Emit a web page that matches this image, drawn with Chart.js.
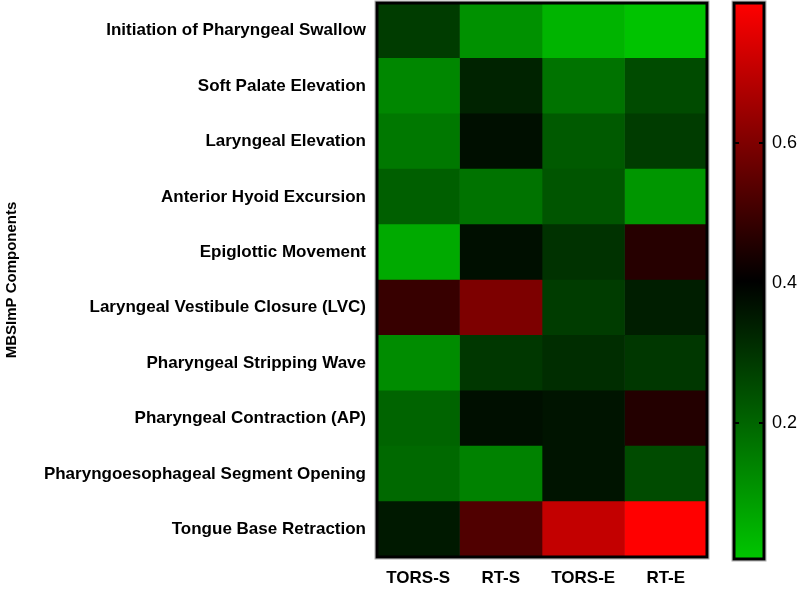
<!DOCTYPE html>
<html>
<head>
<meta charset="utf-8">
<script src="https://cdn.jsdelivr.net/npm/chart.js@4/dist/chart.umd.min.js"></script>
<style>
  body { margin: 0; background: #fff; }
  #wrap { position: relative; width: 801px; height: 590px; }
  #heat { position: absolute; left: 0; top: 0; }
  #bar { position: absolute; left: 720px; top: 0; }
</style>
</head>
<body>
<div id="wrap">
  <canvas id="heat" width="720" height="590"></canvas>
  <canvas id="bar" width="81" height="590"></canvas>
</div>
<script>
const columns = ['TORS-S', 'RT-S', 'TORS-E', 'RT-E'];
const components = [
  'Initiation of Pharyngeal Swallow',
  'Soft Palate Elevation',
  'Laryngeal Elevation',
  'Anterior Hyoid Excursion',
  'Epiglottic Movement',
  'Laryngeal Vestibule Closure (LVC)',
  'Pharyngeal Stripping Wave',
  'Pharyngeal Contraction (AP)',
  'Pharyngoesophageal Segment Opening',
  'Tongue Base Retraction'
];
// one array per group, rows in the order of components
const torsS = [0.28, 0.13, 0.16, 0.21, 0.06, 0.486, 0.12, 0.20, 0.19, 0.35];
const rtS   = [0.11, 0.33, 0.37, 0.17, 0.37, 0.596, 0.29, 0.37, 0.14, 0.525];
const torsE = [0.04, 0.17, 0.22, 0.23, 0.30, 0.28, 0.31, 0.36, 0.36, 0.706];
const rtE   = [0.01, 0.25, 0.28, 0.10, 0.46, 0.34, 0.29, 0.455, 0.25, 0.80];
const colorTicks = [0.2, 0.4, 0.6];
const scaleMin = 0.005, scaleMid = 0.4, scaleMax = 0.8;

const FONT = "'Liberation Sans', Arial, sans-serif";

// green -> black -> red
function cellColor(v) {
  if (v <= scaleMid) {
    const t = Math.max(0, (scaleMid - v) / (scaleMid - 0));
    return 'rgb(0,' + Math.round(200 * t) + ',0)';
  }
  const t = Math.min(1, (v - scaleMid) / (scaleMax - scaleMid));
  return 'rgb(' + Math.round(255 * t) + ',0,0)';
}

const groups = [torsS, rtS, torsE, rtE];

const frame = {
  id: 'frame',
  afterDatasetsDraw(chart) {
    const a = chart.chartArea, ctx = chart.ctx;
    ctx.save();
    ctx.strokeStyle = '#b0b0b0';
    ctx.lineWidth = 1;
    ctx.strokeRect(a.left - 2, a.top - 2, a.right - a.left + 4, a.bottom - a.top + 4);
    ctx.strokeStyle = '#000';
    ctx.lineWidth = 3;
    ctx.strokeRect(a.left, a.top, a.right - a.left, a.bottom - a.top);
    ctx.restore();
  }
};

new Chart(document.getElementById('heat'), {
  type: 'bar',
  data: {
    labels: components,
    datasets: groups.map((vals, j) => ({
      label: columns[j],
      data: components.map(() => [j, j + 1]),
      backgroundColor: vals.map(cellColor),
      borderWidth: 0,
      barPercentage: 1,
      categoryPercentage: 1,
      grouped: false
    }))
  },
  options: {
    indexAxis: 'y',
    responsive: false,
    animation: false,
    layout: { padding: { top: 3, right: 13, left: 0, bottom: 0 } },
    plugins: { legend: { display: false }, tooltip: { enabled: false } },
    scales: {
      x: {
        type: 'linear', min: 0, max: 4,
        grid: { display: false, drawTicks: false },
        border: { display: false },
        afterBuildTicks: s => { s.ticks = columns.map((c, j) => ({ value: j + 0.5 })); },
        afterFit: s => { s.height = 33; s.paddingLeft = 0; s.paddingRight = 0; },
        ticks: {
          padding: 11, color: '#000', maxRotation: 0, autoSkip: false,
          font: { family: FONT, size: 17, weight: 'bold' },
          callback: v => columns[Math.floor(v)]
        }
      },
      y: {
        grid: { display: false, drawTicks: false },
        border: { display: false },
        afterFit: s => { s.width = 377; s.paddingTop = 0; s.paddingBottom = 0; },
        ticks: {
          padding: 11, color: '#000', autoSkip: false,
          font: { family: FONT, size: 17, weight: 'bold' }
        },
        title: {
          display: true, text: 'MBSImP Components', color: '#000',
          padding: 3,
          font: { family: FONT, size: 15, weight: 'bold' }
        }
      }
    }
  },
  plugins: [frame]
});

// colour bar
const barMarks = {
  id: 'barMarks',
  afterDatasetsDraw(chart) {
    const a = chart.chartArea, ctx = chart.ctx, y = chart.scales.y;
    ctx.save();
    ctx.strokeStyle = '#000';
    ctx.lineWidth = 2;
    colorTicks.forEach(v => {
      const p = Math.round(y.getPixelForValue(v));
      ctx.beginPath();
      ctx.moveTo(a.left, p); ctx.lineTo(a.left + 5, p);
      ctx.moveTo(a.right - 5, p); ctx.lineTo(a.right, p);
      ctx.stroke();
    });
    ctx.restore();
  }
};

new Chart(document.getElementById('bar'), {
  type: 'bar',
  data: {
    labels: [''],
    datasets: [{
      data: [[scaleMin, scaleMax]],
      backgroundColor: ctx => {
        const a = ctx.chart.chartArea;
        if (!a) return '#000';
        const ys = ctx.chart.scales.y;
        const g = ctx.chart.ctx.createLinearGradient(0, ys.getPixelForValue(scaleMin), 0, ys.getPixelForValue(scaleMax));
        g.addColorStop(0, cellColor(scaleMin));
        g.addColorStop(0.5, cellColor(scaleMid));
        g.addColorStop(1, cellColor(scaleMax));
        return g;
      },
      borderWidth: 0,
      barPercentage: 1,
      categoryPercentage: 1
    }]
  },
  options: {
    responsive: false,
    animation: false,
    layout: { padding: { top: 3, left: 14, right: 0, bottom: 31 } },
    plugins: { legend: { display: false }, tooltip: { enabled: false } },
    scales: {
      x: { display: false },
      y: {
        position: 'right',
        min: scaleMin, max: scaleMax,
        grid: { display: false, drawTicks: false },
        border: { display: false },
        afterBuildTicks: s => { s.ticks = colorTicks.map(v => ({ value: v })); },
        afterFit: s => { s.width = 37; s.paddingTop = 0; s.paddingBottom = 0; },
        ticks: {
          padding: 8, color: '#000',
          font: { family: FONT, size: 18 },
          callback: v => v.toFixed(1)
        }
      }
    }
  },
  plugins: [frame, barMarks]
});
</script>
</body>
</html>
